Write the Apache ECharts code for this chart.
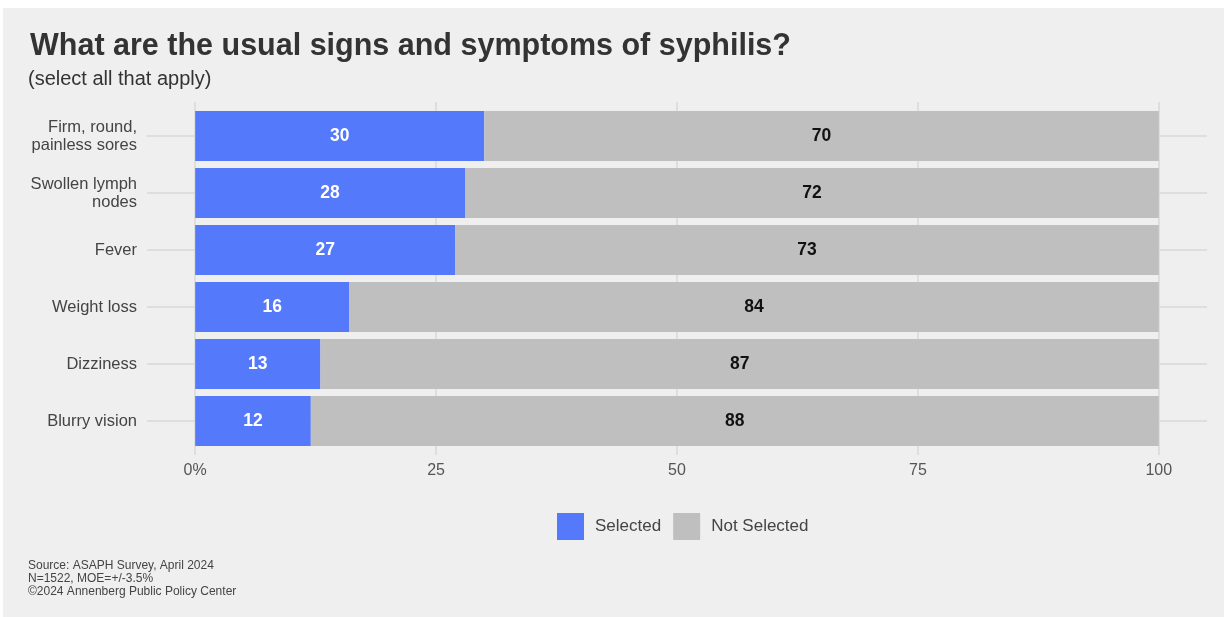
<!DOCTYPE html>
<html>
<head>
<meta charset="utf-8">
<script src="https://cdn.jsdelivr.net/npm/echarts@6/dist/echarts.min.js"></script>
<style>
html,body{margin:0;padding:0;background:#ffffff;}
#bg{position:absolute;left:3px;top:8px;width:1221px;height:609px;background:#efefef;}
#chart{position:absolute;left:0;top:0;width:1225px;height:617px;}
</style>
</head>
<body>
<div id="bg"></div>
<div id="chart"></div>
<script>
const categories = ['Firm, round,\npainless sores', 'Swollen lymph\nnodes', 'Fever', 'Weight loss', 'Dizziness', 'Blurry vision'];
const selected = [30, 28, 27, 16, 13, 12];
const notSelected = [70, 72, 73, 84, 87, 88];
const xTicks = [0, 25, 50, 75, 100];
const seriesNames = ['Selected', 'Not Selected'];

const FONT = '"Liberation Sans", Arial, Helvetica, sans-serif';
const chart = echarts.init(document.getElementById('chart'), null, {renderer: 'canvas'});

const gridColor = '#d8d8d8';
const vLines = xTicks.map(v => ({xAxis: v}));
const hLines = categories.map((c, i) => ({yAxis: i}));

chart.setOption({
  animation: false,
  backgroundColor: 'transparent',
  textStyle: {fontFamily: FONT},
  title: [
    {text: 'What are the usual signs and symptoms of syphilis?', left: 25, top: 26,
     textStyle: {fontFamily: FONT, fontSize: 30.5, fontWeight: 'bold', color: '#333333'}},
    {text: '(select all that apply)', left: 23, top: 64,
     textStyle: {fontFamily: FONT, fontSize: 20, fontWeight: 'normal', color: '#333333'}},
    {text: 'Source: ASAPH Survey, April 2024\nN=1522, MOE=+/-3.5%\n\u00a92024 Annenberg Public Policy Center',
     left: 23, top: 554,
     textStyle: {fontFamily: FONT, fontSize: 12, fontWeight: 'normal', color: '#444444', lineHeight: 13}}
  ],
  legend: {
    data: seriesNames,
    left: 552, top: 508,
    itemWidth: 27, itemHeight: 27, itemGap: 12,
    icon: 'rect',
    textStyle: {fontFamily: FONT, fontSize: 17, color: '#444444', padding: [0, 0, 0, 6]}
  },
  grid: [
    {left: 147, right: 18, top: 107.5, bottom: 617 - 449.5, containLabel: false},
    {left: 147, right: 18, top: 102, bottom: 617 - 455, containLabel: false}
  ],
  xAxis: [
    {
      type: 'value', gridIndex: 0, min: -5, max: 105, interval: 5,
      axisLine: {show: false}, axisTick: {show: false}, splitLine: {show: false},
      axisLabel: {
        margin: 13, fontSize: 16, color: '#555555', fontFamily: FONT,
        formatter: v => (xTicks.indexOf(v) >= 0 ? (v === 0 ? '0%' : String(v)) : '')
      }
    },
    {
      type: 'value', gridIndex: 1, min: -5, max: 105, show: false,
      splitLine: {show: false}
    }
  ],
  yAxis: [
    {
      type: 'category', gridIndex: 0, data: categories, inverse: true,
      axisLine: {show: false}, axisTick: {show: false}, splitLine: {show: false},
      axisLabel: {margin: 10, fontSize: 16.5, color: '#444444', fontFamily: FONT, lineHeight: 18, align: 'right'}
    },
    {
      type: 'value', gridIndex: 1, min: 0, max: 1, show: false, splitLine: {show: false}
    }
  ],
  series: [
    {
      name: 'vgrid', type: 'line', xAxisIndex: 1, yAxisIndex: 1, data: [], z: 0, silent: true,
      markLine: {
        silent: true, symbol: 'none', animation: false, z: 0,
        label: {show: false},
        lineStyle: {color: gridColor, width: 1.5, type: 'solid'},
        data: vLines
      }
    },
    {
      name: 'hgrid', type: 'line', xAxisIndex: 0, yAxisIndex: 0, data: [], z: 0, silent: true,
      markLine: {
        silent: true, symbol: 'none', animation: false, z: 0,
        label: {show: false},
        lineStyle: {color: gridColor, width: 1.5, type: 'solid'},
        data: hLines
      }
    },
    {
      name: seriesNames[0], type: 'bar', stack: 'total', data: selected,
      barCategoryGap: '12%', z: 2,
      itemStyle: {color: '#5479fb'},
      label: {show: true, position: 'inside', color: '#ffffff', fontWeight: 'bold', fontSize: 17.5, fontFamily: FONT}
    },
    {
      name: seriesNames[1], type: 'bar', stack: 'total', data: notSelected,
      barCategoryGap: '12%', z: 2,
      itemStyle: {color: '#bfbfbf'},
      label: {show: true, position: 'inside', color: '#111111', fontWeight: 'bold', fontSize: 17.5, fontFamily: FONT}
    }
  ]
});
</script>
</body>
</html>
